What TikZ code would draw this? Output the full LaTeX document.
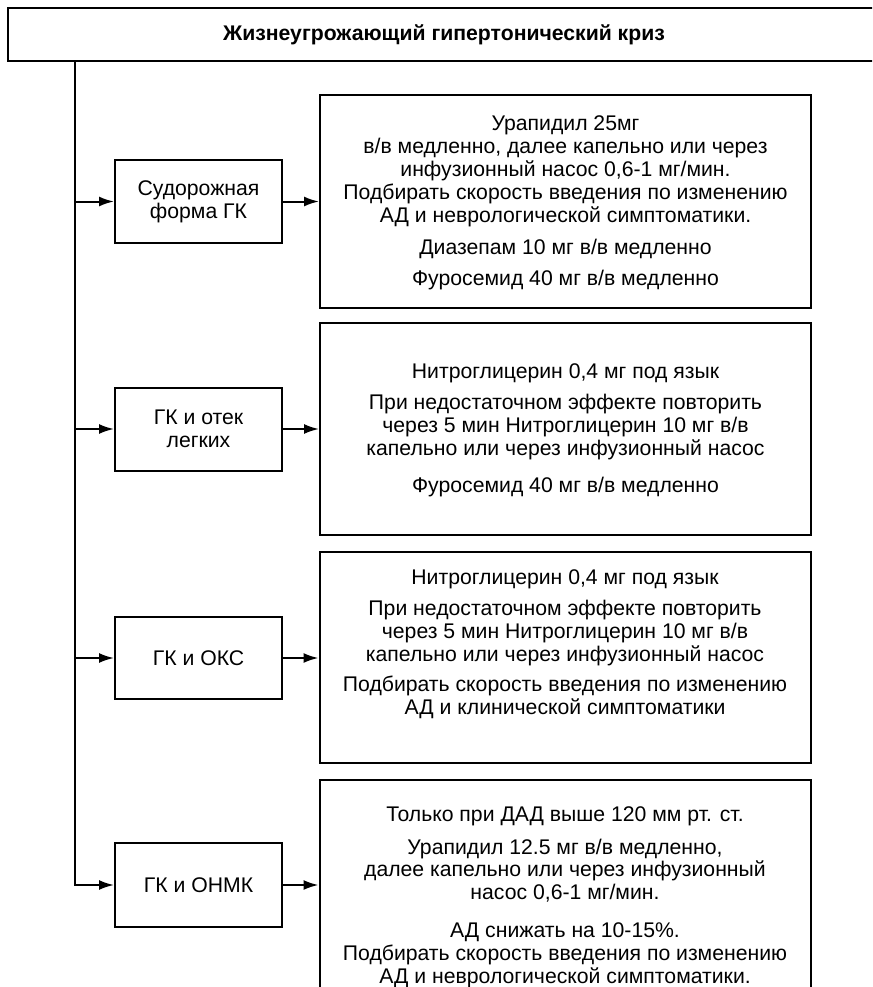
\documentclass[tikz,border=0pt]{standalone}
\usepackage{fontspec}
\setmainfont{Liberation Sans}
\usetikzlibrary{arrows.meta}
\newcommand\myfs{\fontsize{21.2}{22.8}\selectfont}
\begin{document}
\begin{tikzpicture}[x=1pt,y=-1pt,
  box/.style={draw, line width=2pt, inner sep=0pt, font=\myfs},
  rtext/.style={align=center, font=\myfs, inner sep=0pt},
  arr/.style={line width=2pt, -{Latex[length=15pt,width=10pt]}}]
\useasboundingbox (0,0) rectangle (872,987);
\fill[white] (0,0) rectangle (872,987);
\clip (0,0) rectangle (872,987);
% title
\node[box, minimum width=872pt, minimum height=53pt, font=\bfseries\myfs] (top) at (444,34.5) {Жизнеугрожающий гипертонический криз};
% left boxes
\node[box, align=center, minimum width=167pt, minimum height=83pt] (l1) at (198.5,201.5) {Судорожная\\форма ГК};
\node[box, align=center, minimum width=167pt, minimum height=83pt] (l2) at (198.5,429) {ГК и отек\\легких};
\node[box, align=center, minimum width=167pt, minimum height=82pt] (l3) at (198.5,658) {ГК и ОКС};
\node[box, align=center, minimum width=167pt, minimum height=84pt] (l4) at (198.5,885) {ГК и ОНМК};
% right boxes
\node[box, minimum width=491pt, minimum height=213pt] (r1) at (565.5,201.5) {};
\node[box, minimum width=491pt, minimum height=212pt] (r2) at (565.5,429) {};
\node[box, minimum width=491pt, minimum height=211pt] (r3) at (565,657.5) {};
\node[box, minimum width=491pt, minimum height=220pt] (r4) at (565,890) {};
% texts in right boxes
\node[rtext] (t1) at (565.5,203) {Урапидил 25мг\\в/в медленно, далее капельно или через\\инфузионный насос 0,6-1 мг/мин.\\Подбирать скорость введения по изменению\\АД и неврологической симптоматики.\\[10pt]Диазепам 10 мг в/в медленно\\[8pt]Фуросемид 40 мг в/в медленно};
\node[rtext] (t2) at (565.5,430) {Нитроглицерин 0,4 мг под язык\\[9pt]При недостаточном эффекте повторить\\через 5 мин Нитроглицерин 10 мг в/в\\капельно или через инфузионный насос\\[14pt]Фуросемид 40 мг в/в медленно};
\node[rtext] (t3) at (565,644.5) {Нитроглицерин 0,4 мг под язык\\[8pt]При недостаточном эффекте повторить\\через 5 мин Нитроглицерин 10 мг в/в\\капельно или через инфузионный насос\\[8pt]Подбирать скорость введения по изменению\\АД и клинической симптоматики};
\node[rtext] (t4) at (565,897) {Только при ДАД выше 120 мм рт. ст.\\[10pt]Урапидил 12.5 мг в/в медленно,\\далее капельно или через инфузионный\\насос 0,6-1 мг/мин.\\[15pt]АД снижать на 10-15\%.\\Подбирать скорость введения по изменению\\АД и неврологической симптоматики.};
% connectors
\coordinate (sx) at (75,0);
\draw[arr] (top.south -| sx) |- (l4.west);
\draw[arr] (sx |- l1.west) -- (l1.west);
\draw[arr] (sx |- l2.west) -- (l2.west);
\draw[arr] (sx |- l3.west) -- (l3.west);
\draw[arr] (l1.east) -- (l1.east -| r1.west);
\draw[arr] (l2.east) -- (l2.east -| r2.west);
\draw[arr] (l3.east) -- (l3.east -| r3.west);
\draw[arr] (l4.east) -- (l4.east -| r4.west);
\end{tikzpicture}
\end{document}
